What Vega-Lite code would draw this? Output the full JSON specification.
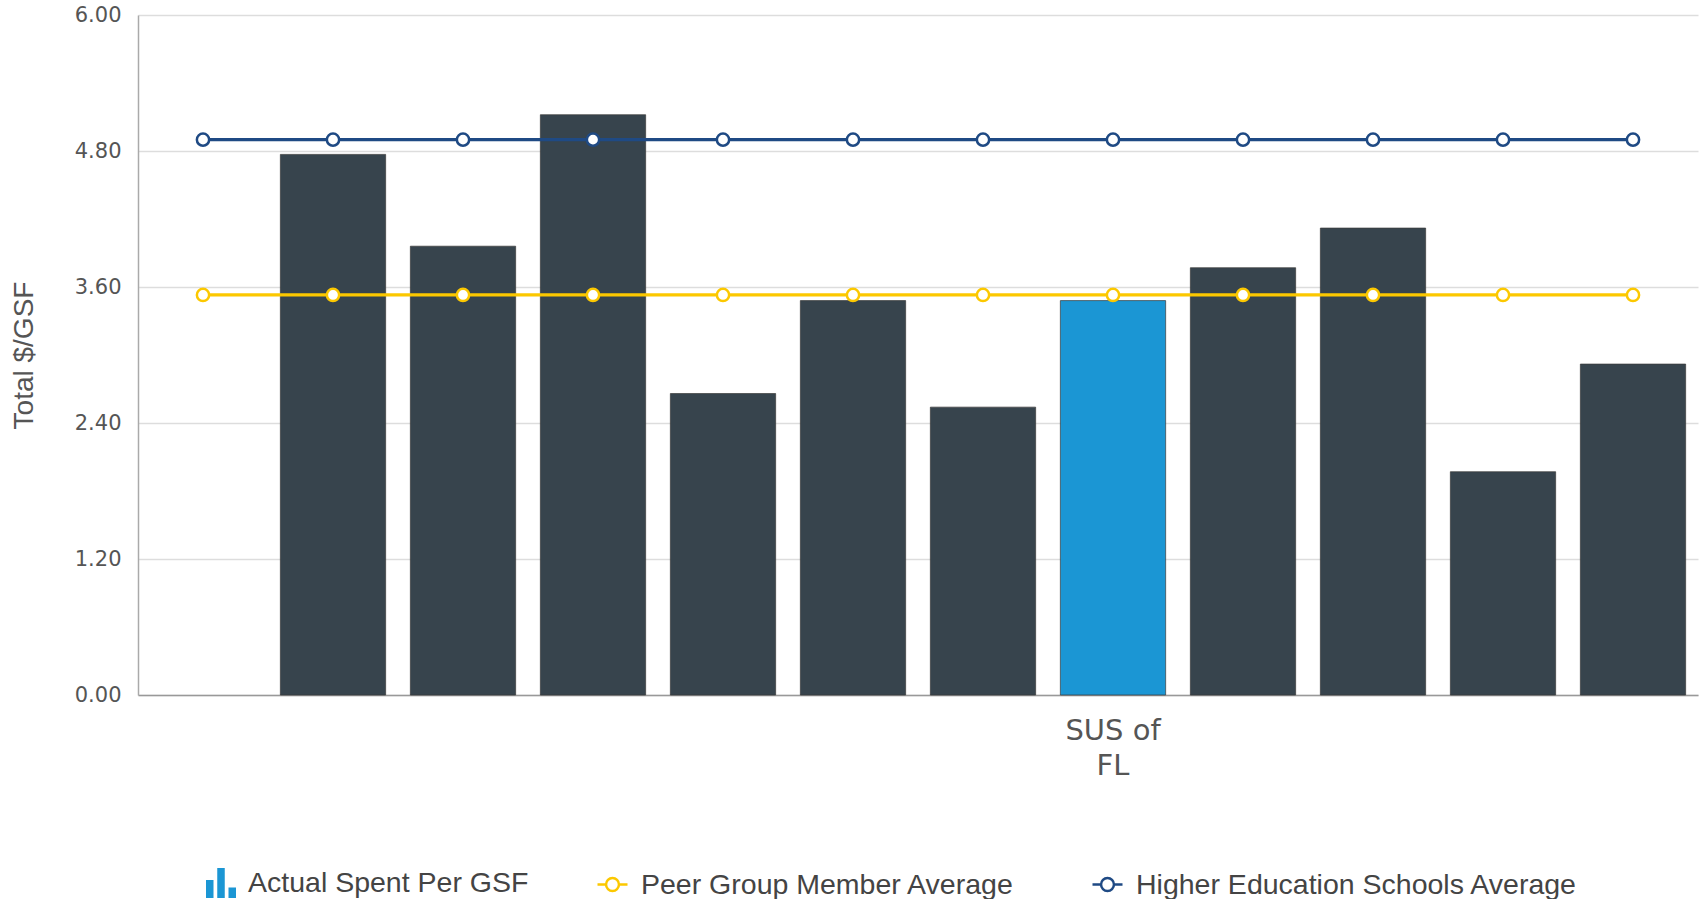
{
  "$schema": "https://vega.github.io/schema/vega-lite/v6.json",
  "width": 1560,
  "height": 680,
  "autosize": {"type": "none"},
  "padding": {"left": 138, "top": 15, "right": 2, "bottom": 204},
  "background": "white",
  "config": {"view": {"stroke": null}, "font": "Liberation Sans"},
  "datasets": {
    "bars": [
      {"school": "Institution B", "series": "Other institution", "value": 4.77},
      {"school": "Institution C", "series": "Other institution", "value": 3.96},
      {"school": "Institution D", "series": "Other institution", "value": 5.12},
      {"school": "Institution E", "series": "Other institution", "value": 2.66},
      {"school": "Institution F", "series": "Other institution", "value": 3.48},
      {"school": "Institution G", "series": "Other institution", "value": 2.54},
      {"school": "SUS of FL", "series": "Actual Spent Per GSF", "value": 3.48},
      {"school": "Institution H", "series": "Other institution", "value": 3.77},
      {"school": "Institution I", "series": "Other institution", "value": 4.12},
      {"school": "Institution J", "series": "Other institution", "value": 1.97},
      {"school": "Institution K", "series": "Other institution", "value": 2.92}
    ],
    "avgs": [
      {"school": "Institution A", "series": "Peer Group Member Average", "value": 3.53},
      {"school": "Institution B", "series": "Peer Group Member Average", "value": 3.53},
      {"school": "Institution C", "series": "Peer Group Member Average", "value": 3.53},
      {"school": "Institution D", "series": "Peer Group Member Average", "value": 3.53},
      {"school": "Institution E", "series": "Peer Group Member Average", "value": 3.53},
      {"school": "Institution F", "series": "Peer Group Member Average", "value": 3.53},
      {"school": "Institution G", "series": "Peer Group Member Average", "value": 3.53},
      {"school": "SUS of FL", "series": "Peer Group Member Average", "value": 3.53},
      {"school": "Institution H", "series": "Peer Group Member Average", "value": 3.53},
      {"school": "Institution I", "series": "Peer Group Member Average", "value": 3.53},
      {"school": "Institution J", "series": "Peer Group Member Average", "value": 3.53},
      {"school": "Institution K", "series": "Peer Group Member Average", "value": 3.53},
      {"school": "Institution A", "series": "Higher Education Schools Average", "value": 4.9},
      {"school": "Institution B", "series": "Higher Education Schools Average", "value": 4.9},
      {"school": "Institution C", "series": "Higher Education Schools Average", "value": 4.9},
      {"school": "Institution D", "series": "Higher Education Schools Average", "value": 4.9},
      {"school": "Institution E", "series": "Higher Education Schools Average", "value": 4.9},
      {"school": "Institution F", "series": "Higher Education Schools Average", "value": 4.9},
      {"school": "Institution G", "series": "Higher Education Schools Average", "value": 4.9},
      {"school": "SUS of FL", "series": "Higher Education Schools Average", "value": 4.9},
      {"school": "Institution H", "series": "Higher Education Schools Average", "value": 4.9},
      {"school": "Institution I", "series": "Higher Education Schools Average", "value": 4.9},
      {"school": "Institution J", "series": "Higher Education Schools Average", "value": 4.9},
      {"school": "Institution K", "series": "Higher Education Schools Average", "value": 4.9}
    ]
  },
  "encoding": {
    "x": {
      "field": "school",
      "type": "nominal",
      "scale": {
        "domain": ["Institution A", "Institution B", "Institution C", "Institution D", "Institution E", "Institution F", "Institution G", "SUS of FL", "Institution H", "Institution I", "Institution J", "Institution K"],
        "paddingInner": 0.19,
        "paddingOuter": 0.095
      },
      "axis": {
        "title": null,
        "labelExpr": "datum.value == 'SUS of FL' ? ['SUS of', 'FL'] : ''",
        "labelFont": "DejaVu Sans",
        "labelFontSize": 29,
        "labelColor": "#555555",
        "labelLineHeight": 35,
        "labelPadding": 21,
        "labelAngle": 0,
        "ticks": false,
        "grid": false,
        "domainColor": "#999999",
        "domainWidth": 1.5
      }
    },
    "y": {
      "field": "value",
      "type": "quantitative",
      "scale": {"domain": [0, 6], "nice": false},
      "axis": {
        "title": "Total $/GSF",
        "titleFont": "Liberation Sans",
        "titleFontSize": 28,
        "titleFontWeight": "normal",
        "titleColor": "#555555",
        "titlePadding": 36,
        "values": [0, 1.2, 2.4, 3.6, 4.8, 6],
        "format": ".2f",
        "labelFont": "DejaVu Sans",
        "labelFontSize": 21,
        "labelColor": "#555555",
        "labelPadding": 17,
        "ticks": false,
        "domainColor": "#aaaaaa",
        "domainWidth": 1.5,
        "gridColor": "#dddddd",
        "gridWidth": 1.5
      }
    }
  },
  "layer": [
    {
      "data": {"name": "bars"},
      "mark": {"type": "bar", "stroke": "#3a3a3a", "strokeWidth": 1, "strokeOpacity": 0.7},
      "encoding": {
        "fill": {
          "field": "series",
          "type": "nominal",
          "scale": {"domain": ["Actual Spent Per GSF", "Other institution"], "range": ["#1b96d4", "#37444d"]},
          "legend": {
            "values": ["Actual Spent Per GSF"],
            "orient": "none",
            "legendX": 68,
            "legendY": 853,
            "title": null,
            "symbolType": "M-1,1V-0.2H-0.5V1ZM-0.25,1V-1H0.25V1ZM0.5,1V0.3H1V1Z",
            "symbolSize": 900,
            "symbolStrokeWidth": 0,
            "labelFont": "Liberation Sans",
            "labelFontSize": 28.5,
            "labelColor": "#444444",
            "labelOffset": 12,
            "labelLimit": 0
          }
        }
      }
    },
    {
      "data": {"name": "avgs"},
      "mark": {"type": "line", "strokeWidth": 3.2},
      "encoding": {
        "stroke": {
          "field": "series",
          "type": "nominal",
          "scale": {"domain": ["Peer Group Member Average", "Higher Education Schools Average"], "range": ["#fcc800", "#1f4a84"]},
          "legend": {
            "orient": "none",
            "legendX": 458,
            "legendY": 853,
            "direction": "horizontal",
            "title": null,
            "symbolType": "M-1,0H-0.43M0.43,0H1M0.43,0A0.43,0.43,0,1,1,-0.43,0A0.43,0.43,0,1,1,0.43,0",
            "symbolSize": 900,
            "symbolStrokeWidth": 2.5,
            "symbolFillColor": "white",
            "labelFont": "Liberation Sans",
            "labelFontSize": 28.5,
            "labelColor": "#444444",
            "labelOffset": 12,
            "labelLimit": 0,
            "columnPadding": 72
          }
        }
      }
    },
    {
      "data": {"name": "avgs"},
      "mark": {"type": "circle", "fill": "white", "size": 150, "strokeWidth": 2.5, "opacity": 1},
      "encoding": {
        "stroke": {"field": "series", "type": "nominal"}
      }
    }
  ]
}
